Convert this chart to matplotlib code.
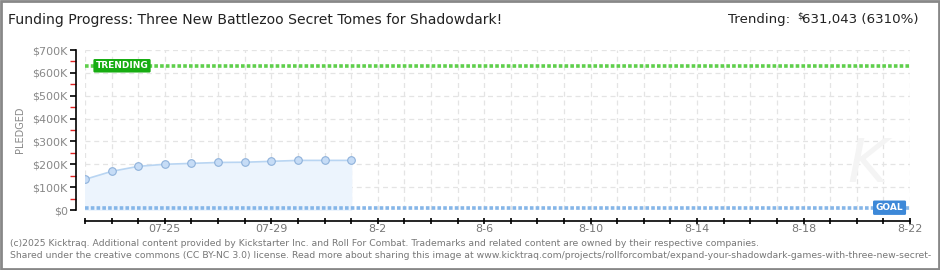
import matplotlib
matplotlib.use("Agg")
import matplotlib.pyplot as plt
import matplotlib.dates as mdates
import pandas as pd

# data
dates = ["2025-07-22", "2025-07-23", "2025-07-24", "2025-07-25", "2025-07-26", "2025-07-27",
         "2025-07-28", "2025-07-29", "2025-07-30", "2025-07-31", "2025-08-01"]
pledged = [134000, 169000, 191000, 200000, 204000, 208000, 209000, 213000, 217000, 217000, 217000]
goal = 10000
trending = 631043
start, end = "2025-07-22", "2025-08-22"
label_dates = ["2025-07-25", "2025-07-29", "2025-08-02", "2025-08-06", "2025-08-10",
               "2025-08-14", "2025-08-18", "2025-08-22"]
label_text = ["07-25", "07-29", "8-2", "8-6", "8-10", "8-14", "8-18", "8-22"]
ytick_vals = [0, 100000, 200000, 300000, 400000, 500000, 600000, 700000]
ytick_text = ["$0", "$100K", "$200K", "$300K", "$400K", "$500K", "$600K", "$700K"]

W, H = 940, 270
fig = plt.figure(figsize=(W / 100, H / 100), dpi=100)
ax = fig.add_axes([85 / W, (H - 210) / H, (910 - 85) / W, 160 / H])

x = pd.to_datetime(dates)
x0, x1 = pd.to_datetime(start), pd.to_datetime(end)
ax.set_xlim(x0, x1)
ax.set_ylim(0, 700000)

# grid
for d in pd.date_range(x0, x1, freq="D"):
    ax.axvline(d, color="#e4e4e4", lw=0.9, ls=(0, (4, 3)), zorder=0)
for v in ytick_vals:
    ax.axhline(v, color="#e4e4e4", lw=0.9, ls=(0, (4, 3)), zorder=0)

# faint watermark
ax.text(x1 - pd.Timedelta(days=1.6), 195000, "K", fontsize=44, color="#f4f4f4",
        style="italic", ha="center", va="center", zorder=0)

# pledged series
ax.fill_between(x, pledged, 0, color="#ecf4fd", zorder=1)
ax.plot(x, pledged, color="#b9d5f2", lw=1.2, zorder=2)
ax.scatter(x, pledged, s=30, color="#c6dcf6", edgecolor="#8eb1da", lw=0.8, zorder=3)

# goal and trending lines
ax.axhline(goal, color="#86b6e8", lw=2.6, ls=(0, (1, 0.6)), zorder=2)
ax.axhline(trending, color="#5fcf4c", lw=2.6, ls=(0, (1, 0.6)), zorder=2)

ax.text(x0 + pd.Timedelta(days=0.4), trending, "TRENDING", color="white", fontsize=6.5,
        va="center", ha="left", fontweight="bold",
        bbox=dict(boxstyle="round,pad=0.25,rounding_size=0.15", fc="#17ad12", ec="none"), zorder=4)
ax.text(x1 - pd.Timedelta(days=0.25), goal, "GOAL", color="white", fontsize=6.5,
        va="center", ha="right", fontweight="bold",
        bbox=dict(boxstyle="round,pad=0.3,rounding_size=0.15", fc="#3c88d8", ec="none"), zorder=4)

# axes styling (outward offsets are in points)
for s in ["top", "right"]:
    ax.spines[s].set_visible(False)
ax.spines["left"].set_position(("outward", 6.5))
ax.spines["bottom"].set_position(("outward", 8))
ax.spines["left"].set_bounds(0, 700000)
ax.spines["left"].set_linewidth(1.2)
ax.spines["bottom"].set_linewidth(1.2)

ax.set_yticks(ytick_vals)
ax.set_yticklabels(ytick_text, color="#888888", fontsize=8)
ax.set_yticks([v + 50000 for v in ytick_vals[:-1]], minor=True)
ax.tick_params(axis="y", which="major", length=4, width=1.2, pad=2)
ax.tick_params(axis="y", which="minor", length=4, width=1, color="#dd2222")

ax.xaxis.set_major_locator(mdates.DayLocator())
ax.xaxis.set_major_formatter(matplotlib.ticker.NullFormatter())
ax.tick_params(axis="x", which="major", direction="inout", length=5, width=1.2)
for d, t in zip(label_dates, label_text):
    ax.text(pd.to_datetime(d), -19 / 160, t, transform=ax.get_xaxis_transform(),
            ha="center", va="center", fontsize=8, color="#777777")

ax.set_ylabel("PLEDGED", color="#888888", fontsize=7, labelpad=5)

# title and trending text
fig.text(8 / W, 1 - 20 / H, "Funding Progress: Three New Battlezoo Secret Tomes for Shadowdark!",
         fontsize=10.1, color="#222222", va="center", ha="left")
fig.text(918 / W, 1 - 20 / H, "631,043 (6310%)",
         fontsize=9.6, color="#222222", va="center", ha="right")
fig.text(803 / W, 1 - 16 / H, "$", fontsize=6.5, color="#222222", va="center", ha="right")
fig.text(790 / W, 1 - 20 / H, "Trending:",
         fontsize=9.6, color="#222222", va="center", ha="right")

# footer
fig.text(10 / W, 1 - 243 / H,
         "(c)2025 Kicktraq. Additional content provided by Kickstarter Inc. and Roll For Combat. "
         "Trademarks and related content are owned by their respective companies.",
         fontsize=6.7, color="#777777", va="center", ha="left")
fig.text(10 / W, 1 - 256 / H,
         "Shared under the creative commons (CC BY-NC 3.0) license. Read more about sharing this image at "
         "www.kicktraq.com/projects/rollforcombat/expand-your-shadowdark-games-with-three-new-secret-",
         fontsize=6.7, color="#777777", va="center", ha="left")

# border
fig.patches.append(plt.Rectangle((0.001, 0.002), 0.998, 0.996, transform=fig.transFigure,
                                 fill=False, ec="#888888", lw=2))

fig.savefig("out.png", dpi=100)
